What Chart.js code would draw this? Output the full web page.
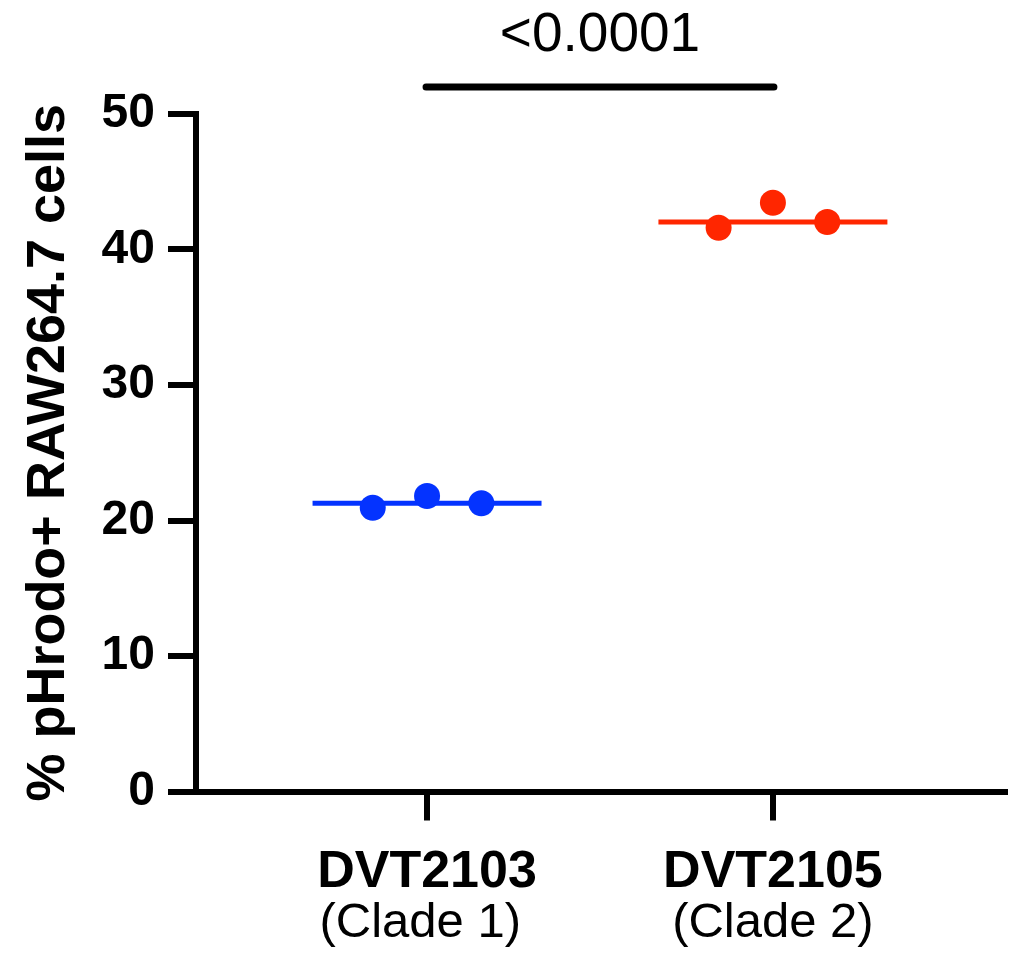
<!DOCTYPE html>
<html>
<head>
<meta charset="utf-8">
<script src="https://cdn.jsdelivr.net/npm/chart.js@4.4.1/dist/chart.umd.min.js"></script>
<style>
  html, body { margin: 0; padding: 0; background: #ffffff; }
  #wrap { width: 1018px; height: 954px; }
</style>
</head>
<body>
<div id="wrap"><canvas id="c" width="1018" height="954"></canvas></div>
<script>
// ---- data ----
const categories = ['DVT2103', 'DVT2105'];
const subLabels = ['(Clade 1) ', '(Clade 2)'];
const clade1Values = [20.94, 21.81, 21.27];
const clade2Values = [41.61, 43.45, 42.03];
const medianValues = [21.27, 42.03];
const jitter = [-0.157, 0, 0.157];
const yTicks = [0, 10, 20, 30, 40, 50];
const yTitle = '% pHrodo+ RAW264.7 cells';
const pValueLabel = '<0.0001';
const seriesColors = ['#0433FF', '#FF2600'];

const FONT = "'Liberation Sans', Arial, Helvetica, sans-serif";

function pointsFor(values, catIndex) {
  return values.map((v, i) => ({ x: catIndex + 1 + jitter[i], y: v }));
}
function medianLine(catIndex) {
  return [
    { x: catIndex + 1 - 0.331, y: medianValues[catIndex] },
    { x: catIndex + 1 + 0.331, y: medianValues[catIndex] }
  ];
}

const datasets = [];
[clade1Values, clade2Values].forEach((vals, ci) => {
  datasets.push({
    type: 'line',
    data: medianLine(ci),
    borderColor: seriesColors[ci],
    borderWidth: 5,
    pointRadius: 0,
    fill: false,
    order: 2
  });
  datasets.push({
    type: 'scatter',
    data: pointsFor(vals, ci),
    backgroundColor: seriesColors[ci],
    borderColor: seriesColors[ci],
    borderWidth: 0,
    pointRadius: 13,
    pointHoverRadius: 13,
    order: 1
  });
});

const labelsPlugin = {
  id: 'labelsPlugin',
  afterDraw(chart) {
    const ctx = chart.ctx;
    const xs = chart.scales.x;
    ctx.save();
    ctx.fillStyle = '#000';
    ctx.textAlign = 'center';
    ctx.textBaseline = 'alphabetic';
    categories.forEach((c, i) => {
      const px = xs.getPixelForValue(i + 1);
      ctx.font = 'bold 52px ' + FONT;
      ctx.fillText(c, px, 887);
      ctx.font = '49px ' + FONT;
      ctx.fillText(subLabels[i], px, 937);
    });
    // significance bar
    const x1 = xs.getPixelForValue(1) - 1;
    const x2 = xs.getPixelForValue(2) + 1;
    ctx.strokeStyle = '#000';
    ctx.lineWidth = 7;
    ctx.lineCap = 'round';
    ctx.beginPath();
    ctx.moveTo(x1, 87);
    ctx.lineTo(x2, 87);
    ctx.stroke();
    ctx.font = '55px ' + FONT;
    ctx.fillText(pValueLabel, (x1 + x2) / 2, 51);
    ctx.restore();
  }
};

new Chart(document.getElementById('c'), {
  data: { datasets },
  options: {
    responsive: false,
    animation: false,
    devicePixelRatio: 1,
    layout: { padding: { top: 114, right: 13, left: 0, bottom: 0 } },
    plugins: { legend: { display: false }, tooltip: { enabled: false } },
    scales: {
      x: {
        type: 'linear',
        min: 0.332,
        max: 2.671,
        afterBuildTicks(scale) { scale.ticks = categories.map((c, i) => ({ value: i + 1 })); },
        afterFit(scale) { scale.height = 162.5; },
        ticks: { display: false },
        grid: { drawOnChartArea: false, drawTicks: true, tickLength: 29, lineWidth: 6, color: '#000' },
        border: { display: true, width: 6, color: '#000' }
      },
      y: {
        type: 'linear',
        min: 0,
        max: 50,
        afterBuildTicks(scale) { scale.ticks = yTicks.map(v => ({ value: v })); },
        afterFit(scale) { scale.width = 196; },
        ticks: {
          color: '#000',
          padding: 13,
          font: { family: FONT, size: 48, weight: 'bold' }
        },
        grid: { drawOnChartArea: false, drawTicks: true, tickLength: 28, lineWidth: 6, color: '#000' },
        border: { display: true, width: 6, color: '#000' },
        title: {
          display: true,
          text: yTitle,
          color: '#000',
          padding: { top: 17, bottom: 0 },
          font: { family: FONT, size: 54, weight: 'bold' }
        }
      }
    }
  },
  plugins: [labelsPlugin]
});
</script>
</body>
</html>
